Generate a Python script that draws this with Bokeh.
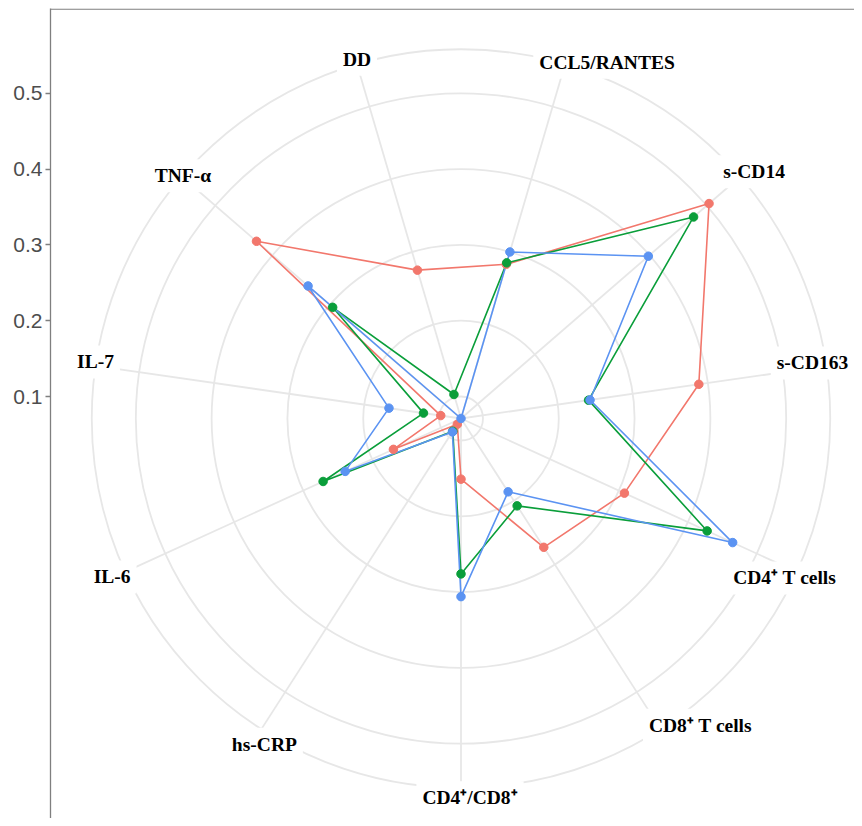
import numpy as np
from bokeh.plotting import figure
from bokeh.models import Range1d, ColumnDataSource, FixedTicker
from bokeh.core.properties import value
from bokeh.embed import file_html
from bokeh.resources import INLINE

# ---------------- data ----------------
categories = ["CCL5/RANTES", "s-CD14", "s-CD163", "CD4\u207a T cells", "CD8\u207a T cells",
              "CD4\u207a/CD8\u207a", "hs-CRP", "IL-6", "IL-7", "TNF-\u03b1", "DD"]
series_red = [0.283, 0.504, 0.388, 0.308, 0.273, 0.151, 0.080, 0.169, 0.098, 0.428, 0.275]
series_green = [0.285, 0.477, 0.241, 0.428, 0.208, 0.276, 0.091, 0.271, 0.121, 0.295, 0.104]
series_blue = [0.300, 0.398, 0.243, 0.465, 0.186, 0.306, 0.092, 0.239, 0.167, 0.338, 0.071]
series_colors = ["#F2776C", "#0A9E3A", "#5B93F2"]
radial_ticks = [0.1, 0.2, 0.3, 0.4, 0.5]
tick_labels = ["0.1", "0.2", "0.3", "0.4", "0.5"]
# small label nudges (pixels, right / up)
label_dx = [42, 14, -14, -12, 40, 9, 3, -13, 0, 1, 0]
label_dy = [2, 5, 3, -6, 4, -10, -15, -5, 4, 1, 5]

# ---------------- geometry ----------------
PX = 758.0                     # pixels per value unit
FW, FH = 804, 810              # frame size
CX_PX, CY_PX = 410.5, 410.0    # centre inside frame (from left / from top)

all_vals = series_red + series_green + series_blue
rmin, rmax = min(all_vals), max(all_vals)
outer = 1.125 * (rmax - rmin)   # ggplot outer circle (0.45 vs 0.40)

n = len(categories)
theta = (np.arange(n) + 0.5) / n * 2 * np.pi

def to_xy(vals):
    r = np.asarray(vals) - rmin
    return r * np.sin(theta), rmin + r * np.cos(theta)

x0 = -CX_PX / PX
y1 = rmin + CY_PX / PX
p = figure(frame_width=FW, frame_height=FH,
           x_range=Range1d(x0, x0 + FW / PX), y_range=Range1d(y1 - FH / PX, y1),
           output_backend="svg", toolbar_location=None,
           x_axis_location=None, min_border_left=50, min_border_right=0,
           min_border_top=8, min_border_bottom=0)
p.xgrid.visible = False
p.ygrid.visible = False
p.outline_line_color = None
p.background_fill_color = "white"

# frame top border line
p.segment(x0=[x0], y0=[y1 - 0.7 / PX], x1=[x0 + FW / PX], y1=[y1 - 0.7 / PX],
          line_color="#7F7F7F", line_width=1.3)

# y axis
ax = p.yaxis[0]
ax.ticker = FixedTicker(ticks=radial_ticks)
ax.major_label_overrides = {t: l for t, l in zip(radial_ticks, tick_labels)}
ax.minor_tick_line_color = None
ax.major_tick_in = 0
ax.major_tick_out = 5
ax.major_label_standoff = 3
ax.axis_line_color = "#7F7F7F"
ax.axis_line_width = 1.3
ax.major_tick_line_color = "#7F7F7F"
ax.major_tick_line_width = 1.3
ax.major_label_text_color = "#4D4D4D"
ax.major_label_text_font = "Liberation Sans"
ax.major_label_text_font_size = "21px"

grid_col = "#E7E7E7"
# circles
circle_r = [t - rmin for t in radial_ticks] + [outer]
p.circle(x=[0] * len(circle_r), y=[rmin] * len(circle_r), radius=circle_r,
         fill_color=None, line_color=grid_col, line_width=1.8)
# spokes
p.segment(x0=[0] * n, y0=[rmin] * n, x1=outer * np.sin(theta), y1=rmin + outer * np.cos(theta),
          line_color=grid_col, line_width=1.8)

# series lines
for vals, col in zip([series_red, series_green, series_blue], series_colors):
    xs, ys = to_xy(vals)
    p.line(np.append(xs, xs[0]), np.append(ys, ys[0]), line_color=col, line_width=1.6)
for vals, col in zip([series_red, series_green, series_blue], series_colors):
    xs, ys = to_xy(vals)
    p.scatter(xs, ys, size=8.5, fill_color=col, line_color=col)

# category labels
lx = outer * np.sin(theta) + np.array(label_dx) / PX
ly = rmin + outer * np.cos(theta) + np.array(label_dy) / PX
src = ColumnDataSource(dict(x=lx, y=ly, t=categories))
p.text(x="x", y="y", text="t", source=src, text_align="center",
       text_baseline="middle", text_font=value("Liberation Serif"),
       text_font_style="bold", text_font_size="19.5px", text_color="black",
       background_fill_color="white", padding=6)

open("out.html", "w").write(file_html(p, INLINE))
